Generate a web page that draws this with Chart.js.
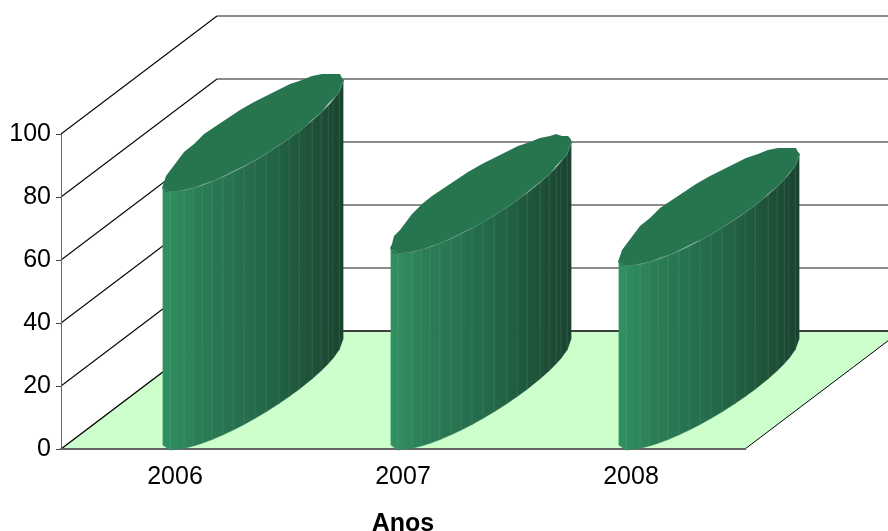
<!DOCTYPE html>
<html>
<head>
<meta charset="utf-8">
<title>Anos</title>
<script src="https://cdn.jsdelivr.net/npm/chart.js@4"></script>
<style>
  html, body { margin: 0; padding: 0; background: #fff; }
  canvas { display: block; }
</style>
</head>
<body>
<canvas id="anosChart" width="888" height="531"></canvas>
<script>
const categories = ['2006', '2007', '2008'];
const values = [81.9, 62.3, 58.4];
const yTicks = [0, 20, 40, 60, 80, 100];

// depth of the floor, as a pixel offset from the front plane to the back wall
const depthX = 156;
const depthY = 118;
// strip edges on the visible side, as fractions of the cylinder's screen width
const stripEdges = [0, .039, .117, .167, .217, .272, .333, .389, .45, .511, .572, .644, .7, .756, .828, .878, .917, .944, .978, 1];

const floorColor = '#ccffcc';
const topColor = '#27754f';

function line(ctx, x1, y1, x2, y2, color, width) {
  ctx.beginPath();
  ctx.moveTo(x1, y1);
  ctx.lineTo(x2, y2);
  ctx.strokeStyle = color;
  ctx.lineWidth = width;
  ctx.stroke();
}

// floor, back wall grid and side wall diagonals
const roomPlugin = {
  id: 'room',
  beforeDraw(chart) {
    const { ctx, chartArea, scales } = chart;
    const { left, right } = chartArea;
    const floorY = scales.y.getPixelForValue(0);

    ctx.save();
    ctx.beginPath();
    ctx.moveTo(left, floorY);
    ctx.lineTo(right, floorY);
    ctx.lineTo(right + depthX, floorY - depthY);
    ctx.lineTo(left + depthX, floorY - depthY);
    ctx.closePath();
    ctx.fillStyle = floorColor;
    ctx.fill();

    yTicks.forEach(tick => {
      const y = scales.y.getPixelForValue(tick);
      const isFloor = tick === 0;
      line(ctx, left, y, left + depthX, y - depthY, '#000', isFloor ? 1.4 : 1.05);
      line(ctx, left + depthX, y - depthY, right + depthX, y - depthY, isFloor ? '#000' : '#666', isFloor ? 1.5 : 1.4);
    });
    line(ctx, right, floorY, right + depthX, floorY - depthY, '#000', 1);
    ctx.restore();
  }
};

// point on the cylinder's end circle; angle 0 is the right extreme of the outline
function outlinePoint(cx, cy, radius, halfHeight, tilt, angle) {
  const cosA = Math.cos(angle);
  const y = cy - halfHeight * Math.sin(angle + tilt);
  // the faceted outline runs a little past the true ellipse at its left extreme
  const corner = cosA < 0 ? 4 * Math.pow(-cosA, 12) : 0;
  return { x: cx + radius * cosA, y: y + corner };
}

function drawCylinder(ctx, bar, base) {
  const halfWidth = bar.width / 2;
  const skew = depthX / 2;
  const radius = Math.hypot(halfWidth, skew);
  const tilt = Math.atan2(skew, halfWidth);
  const halfHeight = depthY / 2;
  const cx = bar.x + depthX / 2;
  const topY = bar.y - depthY / 2;
  const bottomY = base - depthY / 2;

  // lower half of the outline, left to right
  const angles = stripEdges.map(f => Math.PI + Math.acos(1 - 2 * f));
  const pointsAt = cy => angles.map(a => outlinePoint(cx, cy, radius, halfHeight, tilt, a));
  const topEdge = pointsAt(topY);
  const bottomEdge = pointsAt(bottomY);

  const shade = ctx.createLinearGradient(cx - radius, 0, cx + radius, 0);
  shade.addColorStop(0, '#319162');
  shade.addColorStop(0.2, '#2b7d56');
  shade.addColorStop(0.55, '#24684a');
  shade.addColorStop(0.8, '#1e5439');
  shade.addColorStop(1, '#194330');

  for (let i = 0; i < topEdge.length - 1; i++) {
    ctx.beginPath();
    ctx.moveTo(topEdge[i].x, topEdge[i].y);
    ctx.lineTo(topEdge[i + 1].x, topEdge[i + 1].y);
    ctx.lineTo(bottomEdge[i + 1].x, bottomEdge[i + 1].y);
    ctx.lineTo(bottomEdge[i].x, bottomEdge[i].y);
    ctx.closePath();
    ctx.fillStyle = shade;
    ctx.fill();
    // overlap the strips so no seam of the floor shows through
    ctx.strokeStyle = shade;
    ctx.lineWidth = 0.6;
    ctx.stroke();
  }
  for (let i = 1; i < topEdge.length - 1; i++) {
    line(ctx, topEdge[i].x, topEdge[i].y, bottomEdge[i].x, bottomEdge[i].y, 'rgba(255,255,255,0.08)', 1);
  }

  // top face, snapped to whole pixels for the stepped outline
  const steps = 44;
  ctx.beginPath();
  for (let i = 0; i < steps; i++) {
    const p = outlinePoint(cx, topY, radius, halfHeight, tilt, i / steps * Math.PI * 2);
    const px = Math.round(p.x / 2) * 2;
    const py = Math.round(p.y / 2) * 2;
    if (i === 0) ctx.moveTo(px, py);
    else ctx.lineTo(px, py);
  }
  ctx.closePath();
  ctx.fillStyle = topColor;
  ctx.fill();

  ctx.beginPath();
  topEdge.forEach((p, i) => i === 0 ? ctx.moveTo(p.x, p.y) : ctx.lineTo(p.x, p.y));
  ctx.strokeStyle = 'rgba(255,255,255,0.2)';
  ctx.lineWidth = 0.8;
  ctx.stroke();
}

const cylinderPlugin = {
  id: 'cylinders',
  afterDatasetsDraw(chart) {
    const { ctx, scales } = chart;
    const base = scales.y.getPixelForValue(0);
    ctx.save();
    chart.getDatasetMeta(0).data.forEach(bar => drawCylinder(ctx, bar, base));
    ctx.restore();
  }
};

new Chart(document.getElementById('anosChart'), {
  type: 'bar',
  data: {
    labels: categories,
    datasets: [{
      label: 'Anos',
      data: values,
      backgroundColor: 'rgba(0,0,0,0)',
      barPercentage: 0.395,
      categoryPercentage: 1
    }]
  },
  options: {
    responsive: false,
    animation: false,
    layout: { padding: { left: 0, right: 143, top: 134, bottom: 0 } },
    plugins: {
      legend: { display: false },
      tooltip: { enabled: false }
    },
    scales: {
      x: {
        afterFit(scale) { scale.height = 82; },
        grid: { display: false, drawTicks: false },
        border: { display: true, color: '#666', width: 2 },
        ticks: {
          color: '#000',
          padding: 13,
          maxRotation: 0,
          font: { family: '"Liberation Sans"', size: 25 }
        },
        title: {
          display: true,
          text: 'Anos',
          color: '#000',
          padding: { top: 0, bottom: -6 },
          font: { family: '"Liberation Sans"', size: 25, weight: 'bold', lineHeight: 1 }
        }
      },
      y: {
        min: 0,
        max: 100,
        afterBuildTicks(scale) { scale.ticks = yTicks.map(value => ({ value })); },
        afterFit(scale) { scale.width = 61; },
        grid: { drawOnChartArea: false, color: '#444', tickLength: 5 },
        border: { display: true, color: '#666', width: 1 },
        ticks: {
          color: '#000',
          padding: 5,
          font: { family: '"Liberation Sans"', size: 25 }
        }
      }
    }
  },
  plugins: [roomPlugin, cylinderPlugin]
});
</script>
</body>
</html>
